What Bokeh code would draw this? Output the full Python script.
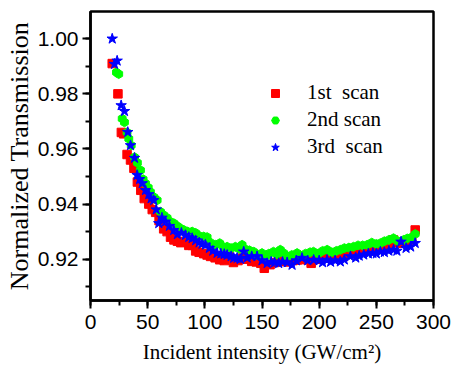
from bokeh.plotting import figure
from bokeh.models import Range1d, SingleIntervalTicker, NumeralTickFormatter, Legend, LegendItem
from bokeh.embed import file_html
from bokeh.resources import INLINE

# ---------------- data ----------------
x1 = [19, 24, 27, 29, 32, 35, 38, 41, 44, 47, 51, 54, 57, 60, 64, 67, 70, 73, 76, 79,
      83, 86, 89, 92, 95, 99, 102, 105, 109, 113, 117, 121, 125, 129, 133, 137, 141, 145,
      149, 152, 157, 161, 165, 169, 173, 177, 181, 185, 189, 193, 197, 201, 205, 209, 213,
      217, 221, 225, 229, 233, 237, 241, 245, 249, 253, 257, 261, 265, 269, 273, 277, 281, 284]
y1 = [0.991, 0.980, 0.966, 0.9655, 0.958, 0.956, 0.953, 0.948, 0.945, 0.942, 0.940, 0.938,
      0.937, 0.934, 0.931, 0.930, 0.928, 0.927, 0.9265, 0.926, 0.9262, 0.925, 0.925, 0.923,
      0.9225, 0.922, 0.9215, 0.921, 0.9205, 0.9198, 0.9195, 0.921, 0.9188, 0.9195, 0.9204,
      0.920, 0.9192, 0.919, 0.9185, 0.9167, 0.918, 0.9188, 0.9191, 0.920, 0.919, 0.9195,
      0.9197, 0.9205, 0.9198, 0.9185, 0.920, 0.9205, 0.9204, 0.921, 0.9205, 0.9216, 0.921,
      0.9218, 0.9222, 0.922, 0.9228, 0.9234, 0.924, 0.9238, 0.9245, 0.925, 0.9258, 0.927,
      0.926, 0.9258, 0.9262, 0.927, 0.9306]

x2 = [22.7, 24.7, 27.7, 29.7, 32, 33.5, 35.6, 38.5, 41, 43.7, 46, 48.1, 50.5, 52.4, 55.5,
      58.3, 61.2, 64, 67, 69.9, 73, 76, 78.7, 82, 85, 88.9, 92, 95, 99, 102, 105, 109.3,
      113, 116, 119.5, 123, 126.7, 130, 132.6, 136, 139, 142.8, 146, 150, 153, 156, 160,
      163, 166, 169, 172, 176, 180.7, 184, 188, 192, 195, 199, 203, 207, 211, 215, 218.5,
      222, 226, 230, 234, 238, 242, 246, 250, 253.5, 257, 261, 265, 269, 274, 277, 281, 284]
y2 = [0.9878, 0.9872, 0.971, 0.9697, 0.966, 0.9637, 0.9613, 0.957, 0.955, 0.9523, 0.949,
      0.9475, 0.946, 0.9444, 0.9425, 0.9414, 0.9372, 0.936, 0.935, 0.9336, 0.933, 0.932,
      0.9312, 0.9305, 0.930, 0.930, 0.9295, 0.9285, 0.9282, 0.928, 0.926, 0.9252, 0.9258,
      0.9245, 0.9245, 0.924, 0.9245, 0.9238, 0.9252, 0.9235, 0.9232, 0.9227, 0.9215, 0.9222,
      0.921, 0.922, 0.9227, 0.9218, 0.9234, 0.9222, 0.921, 0.9215, 0.9222, 0.9212, 0.922,
      0.9225, 0.9227, 0.922, 0.923, 0.9234, 0.9225, 0.923, 0.9234, 0.924, 0.9242, 0.9245,
      0.925, 0.925, 0.9252, 0.926, 0.9255, 0.9258, 0.9265, 0.927, 0.9276, 0.9265, 0.927,
      0.9275, 0.928, 0.9291]

x3 = [19, 21, 23.3, 26.8, 29.7, 32.6, 35, 38.5, 40.8, 43, 45.2, 48.1, 51, 53, 55.3, 57.5,
      59.7, 62.5, 65.6, 69, 72.8, 76, 79.5, 83, 86, 88.9, 92, 95, 97.5, 100.5, 104, 107,
      110.7, 114, 117, 119.5, 123, 125.3, 128.2, 131, 134, 137, 141, 145.7, 150, 154.5, 158,
      161, 164.6, 168, 172, 176.3, 180, 185, 190, 195.2, 200, 203, 206.9, 210, 214, 218.5,
      222, 227.3, 232, 235, 239, 243, 247, 250, 253.5, 257, 261, 265.1, 268, 271.6, 276, 280, 284]
y3 = [1.000, 0.9908, 0.992, 0.9758, 0.9737, 0.9661, 0.9613, 0.9567, 0.9505, 0.949, 0.9475,
      0.945, 0.9435, 0.942, 0.9414, 0.938, 0.933, 0.935, 0.9336, 0.932, 0.9305, 0.929,
      0.9295, 0.9287, 0.928, 0.9276, 0.9268, 0.926, 0.9255, 0.9252, 0.924, 0.923, 0.9222,
      0.922, 0.9218, 0.9215, 0.921, 0.9204, 0.9204, 0.920, 0.9227, 0.9205, 0.921, 0.921,
      0.9195, 0.9185, 0.919, 0.9188, 0.9185, 0.919, 0.9188, 0.9179, 0.9195, 0.9204, 0.9195,
      0.9197, 0.9195, 0.9188, 0.9197, 0.919, 0.9195, 0.9191, 0.9198, 0.921, 0.9205, 0.9212,
      0.9216, 0.922, 0.9222, 0.922, 0.9227, 0.9225, 0.923, 0.9234, 0.923, 0.9263, 0.924,
      0.9245, 0.9258]

labels = ["1st  scan", "2nd scan", "3rd  scan"]

# ---------------- figure ----------------
p = figure(width=452, height=371, output_backend="svg", toolbar_location=None,
           x_range=Range1d(0, 300), y_range=Range1d(0.905, 1.0099),
           min_border_left=90, min_border_right=19, min_border_top=11, min_border_bottom=71)
p.background_fill_color = "white"
p.border_fill_color = "white"
p.outline_line_color = "black"
p.outline_line_width = 2.5
p.xgrid.visible = False
p.ygrid.visible = False

r1 = p.scatter(x1, y1, marker="square", size=8.5, color="#ff0000")
r2 = p.scatter(x2, y2, marker="hex", size=9, angle=0.52, color="#00ff00")
r3 = p.scatter(x3, y3, marker="star", size=11, color="#0000ff")

p.xaxis.ticker = SingleIntervalTicker(interval=50, num_minor_ticks=2)
p.yaxis.ticker = SingleIntervalTicker(interval=0.02, num_minor_ticks=2)
p.yaxis.formatter = NumeralTickFormatter(format="0.00")

for ax in (p.xaxis[0], p.yaxis[0]):
    ax.axis_line_width = 2.5
    ax.axis_line_color = "black"
    ax.major_tick_line_width = 2
    ax.minor_tick_line_width = 2
    ax.major_tick_out = 8
    ax.major_tick_in = 0
    ax.minor_tick_out = 5
    ax.minor_tick_in = 0
    ax.major_label_text_font = "Liberation Sans"
    ax.major_label_text_font_size = "21px"
    ax.major_label_text_color = "black"
    ax.axis_label_text_font = "Liberation Serif"
    ax.axis_label_text_font_style = "normal"
    ax.axis_label_text_color = "black"

p.xaxis.axis_label_text_font_size = "21px"
p.yaxis.axis_label_text_font_size = "26px"
p.xaxis.axis_label = "Incident intensity (GW/cm\u00b2)"
p.yaxis.axis_label = "Normalized Transmission"
p.xaxis.major_label_standoff = 6
p.yaxis.major_label_standoff = 4
p.xaxis.axis_label_standoff = 8
p.yaxis.axis_label_standoff = 1

legend = Legend(items=[LegendItem(label=labels[0], renderers=[r1]),
                       LegendItem(label=labels[1], renderers=[r2]),
                       LegendItem(label=labels[2], renderers=[r3])],
                location=(175, 141))
legend.border_line_color = None
legend.background_fill_alpha = 0
legend.padding = 0
legend.margin = 0
legend.spacing = 2
legend.glyph_width = 20
legend.glyph_height = 20
legend.label_height = 20
legend.label_standoff = 22
legend.label_text_font = "Liberation Serif"
legend.label_text_font_size = "21px"
legend.label_text_color = "black"
p.add_layout(legend, "center")

open("out.html", "w").write(file_html(p, INLINE))
